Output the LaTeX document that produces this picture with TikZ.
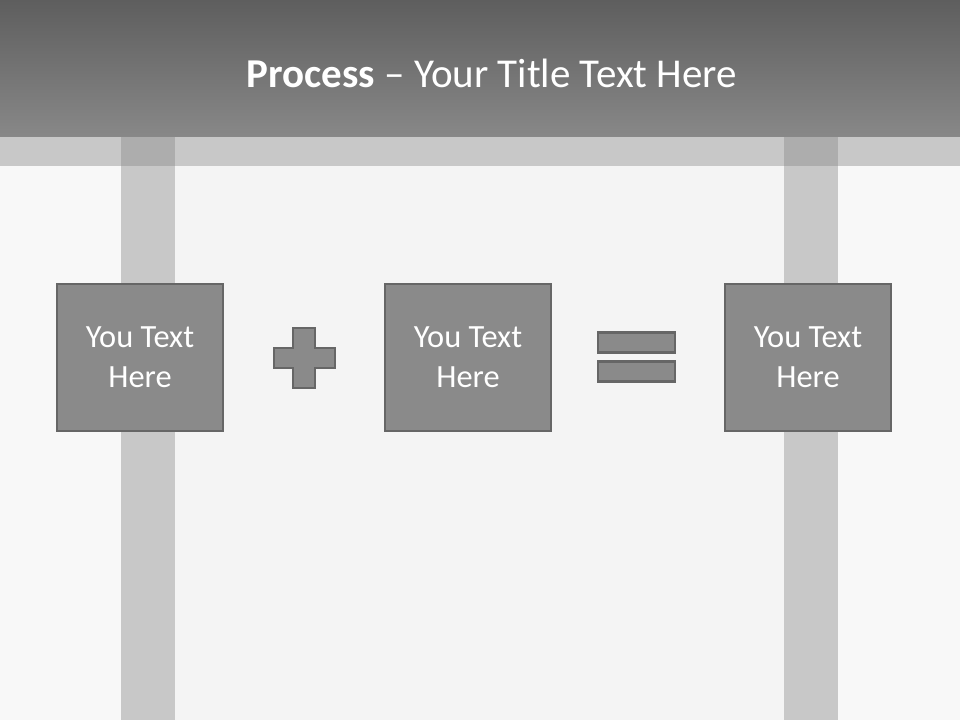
\documentclass[tikz,border=0pt]{standalone}
\usepackage{fontspec}
\setmainfont{Carlito}
\begin{document}
\begin{tikzpicture}[x=1pt,y=-1pt,
  box/.style={draw=boxline,fill=boxfill,line width=2.5pt,minimum width=166pt,minimum height=147pt,inner sep=0pt,
    text=white,align=center,font=\fontsize{32.4}{40}\selectfont},
  bar/.style={draw=boxline,fill=boxfill,line width=2.5pt,inner sep=0pt}]
\definecolor{boxfill}{HTML}{8A8A8A}
\definecolor{boxline}{HTML}{666666}
\definecolor{bandgray}{HTML}{C8C8C8}
\definecolor{overlap}{HTML}{ADADAD}
\definecolor{bgmid}{HTML}{F4F4F4}
\definecolor{bgside}{HTML}{F8F8F8}
\definecolor{headtop}{HTML}{5E5E5E}
\definecolor{headbot}{HTML}{888888}
\useasboundingbox (0,0) rectangle (960,720);
% background
\fill[bgside] (0,0) rectangle (960,720);
\fill[bgmid] (175,166) rectangle (784,720);
% header
\shade[top color=headtop,bottom color=headbot] (0,0) rectangle (960,137);
% light band
\fill[bandgray] (0,137) rectangle (960,166);
% vertical bars
\fill[bandgray] (121,166) rectangle (175,720);
\fill[bandgray] (784,166) rectangle (838,720);
\fill[overlap] (121,137) rectangle (175,166);
\fill[overlap] (784,137) rectangle (838,166);
% title
\node[text=white,font=\fontsize{41}{48}\selectfont,anchor=base] (title) at (492,87) {\textbf{Process} -- Your Title Text Here};
% boxes
\node[box] (b1) at (140,357.5) {You Text\\Here};
\node[box] (b2) at (468,357.5) {You Text\\Here};
\node[box] (b3) at (808,357.5) {You Text\\Here};
% plus
\draw[boxline,fill=boxfill,line width=2.5pt]
  (293,328) -- (315,328) -- (315,348) -- (335,348) -- (335,368) -- (315,368) -- (315,388)
  -- (293,388) -- (293,368) -- (274,368) -- (274,348) -- (293,348) -- cycle;
\node[inner sep=0pt] (plus) at (304.5,358) {};
% equals
\node[bar,minimum width=77pt,minimum height=20pt] (eq1) at (636.5,342.5) {};
\node[bar,minimum width=77pt,minimum height=20pt] (eq2) at (636.5,371.5) {};
\end{tikzpicture}
\end{document}
